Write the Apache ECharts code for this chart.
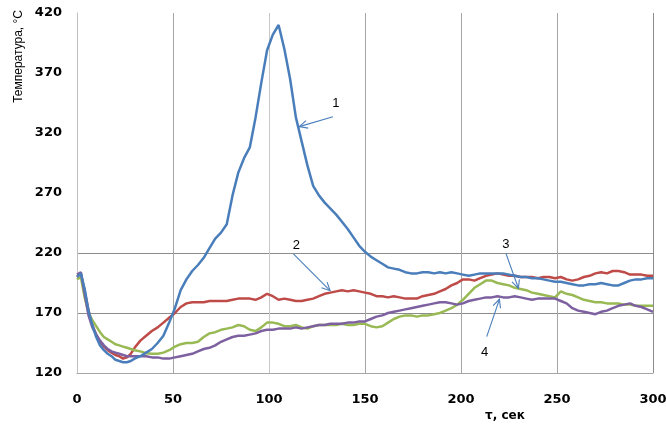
<!DOCTYPE html>
<html>
<head>
<meta charset="utf-8">
<script src="https://cdn.jsdelivr.net/npm/echarts@6/dist/echarts.min.js"></script>
<style>html,body{margin:0;padding:0;background:#fff}#c{width:666px;height:428px}</style>
</head>
<body>
<div id="c"></div>
<script>
// time, seconds
var time = [0,2,4,6,8,10,12,14,16,18,20,22,24,26,28,30,
33,36,39,42,45,48,51,54,57,60,63,66,69,72,75,78,81,84,87,90,93,96,99,102,105,108,111,114,117,120,
123,126,129,132,135,138,141,144,147,150,153,156,159,162,165,168,171,174,177,180,183,186,189,192,195,198,
201,204,207,210,213,216,219,222,225,228,231,234,237,240,243,246,249,252,255,258,261,264,267,270,273,276,
279,282,285,288,291,294,297,300];

var series1 = [200,203,190,172,160,150,143,139,136,134,131,130,129,129,130,132,
134,137,140,145,151,162,174,189,198,205,210,216,224,232,237,244,268,287,299,308,333,362,389,402,410,390,365,333,313,293,
276,268,262,257,252,246,240,233,226,221,217,214,211,208,207,206,204,203,203,204,204,203,204,203,204,203,
202,201,202,203,203,203,203,203,202,201,200,200,199,199,198,197,196,196,195,194,193,193,194,194,195,194,
193,193,195,197,198,198,199,199];

var series2 = [200,203,188,172,160,152,146,142,139,137,135,134,132,133,136,141,
147,151,155,158,162,166,170,175,178,179,179,179,180,180,180,180,181,182,182,182,181,183,186,184,181,182,181,180,180,181,
182,184,186,187,188,189,188,189,188,187,186,184,184,183,184,183,182,182,182,184,185,186,188,190,193,195,
198,198,197,199,201,202,203,202,201,201,200,200,200,199,200,200,199,200,198,197,198,200,201,203,204,203,
205,205,204,202,202,202,201,201];

var series3 = [198,200,183,170,164,159,154,150,148,146,144,143,142,141,140,139,
138,136.5,136,136,137,139,142,144,145,145,146,150,153,154,156,157,158,160,159,156,155,158,162,162,161,159,159,160,158,157,
159,160,160,160,160,161,160,160,161,161,159,158,159,162,165,167,168,168,167,168,168,169,170,172,174,177,
181,186,191,194,197,197,195,194,193,191,190,189,187,186,185,184,183,188,186,185,183,181,180,179,179,178,
178,178,177,177,176,176,176,176];

var series4 = [202,204,186,168,158,152,147,143,140,138,137,136,135,134,134,134,
134,134,133,133,132,132,133,134,135,136,138,140,141,143,146,148,150,151,151,152,153,155,156,156,157,157,157,158,157,158,
159,160,160,161,161,161,162,162,163,163,165,167,168,170,171,172,173,174,175,176,177,178,179,179,178,177,
178,180,181,182,183,183,184,183,183,184,183,182,181,182,182,182,182,180,178,174,172,171,170,169,171,172,
174,176,177,178,176,175,173,171];

var seriesNames = ['1','2','3','4'];
var seriesColors = ['#4a7ebb','#be4b48','#98b954','#7d60a0'];

// annotations: arrow tail [x, y], arrow tip [x, y], label text
var annotFrom = [[133.3, 333.6],[112.7, 219.2],[223.4, 219.7],[213.4, 150.3]];
var annotTo   = [[115.8, 325.3],[131.8, 188.6],[229.9, 190.6],[220.0, 181.4]];
var annotText = ['1','2','3','4'];

var xTicks = {min: 0, max: 300, interval: 50};
var yTicks = {min: 120, max: 420, interval: 50};

var labelOffsets = [[3,-13],[3,-9],[0,-9],[-2,16]];

function pairs(v){ return time.map(function(t,i){ return [t, v[i]]; }); }
var values = [series1, series2, series3, series4];

var annotData = annotFrom.map(function(f,i){ return [f[0], f[1], annotTo[i][0], annotTo[i][1], i]; });

var chart = echarts.init(document.getElementById('c'), null, {renderer:'canvas'});
var lineSeries = values.map(function(v,i){
  return {
    type:'line', name: seriesNames[i], data: pairs(v), showSymbol:false, symbol:'none',
    lineStyle:{color: seriesColors[i], width:2.5}, itemStyle:{color: seriesColors[i]},
    animation:false, z: 2 + (i===0?3:0)
  };
});

lineSeries.push({
  type:'custom', coordinateSystem:'cartesian2d', data: annotData,
  encode:{x:[0,2], y:[1,3]}, animation:false, z: 10, silent:true,
  renderItem: function(params, api){
    var p1 = api.coord([api.value(0), api.value(1)]);
    var p2 = api.coord([api.value(2), api.value(3)]);
    var idx = api.value(4);
    var ang = Math.atan2(p2[1]-p1[1], p2[0]-p1[0]);
    var L = 9, a = 0.45;
    var h1 = [p2[0]-L*Math.cos(ang-a), p2[1]-L*Math.sin(ang-a)];
    var h2 = [p2[0]-L*Math.cos(ang+a), p2[1]-L*Math.sin(ang+a)];
    var st = {stroke:'#4a7ebb', lineWidth:1.1, fill:null};
    var off = labelOffsets[idx];
    return {
      type:'group',
      children:[
        {type:'line', shape:{x1:p1[0],y1:p1[1],x2:p2[0],y2:p2[1]}, style:st},
        {type:'polyline', shape:{points:[h1,p2,h2]}, style:st},
        {type:'text', style:{text: annotText[idx], x:p1[0]+off[0], y:p1[1]+off[1], align:'center', verticalAlign:'middle',
          font:'13px "Liberation Sans", Arial, sans-serif', fill:'#000'}}
      ]
    };
  }
});

chart.setOption({
  animation:false,
  backgroundColor:'#fff',
  grid:{left:77, right:13, top:13, bottom:55, containLabel:false, outerBoundsMode:'none'},
  xAxis:{
    type:'value', min:xTicks.min, max:xTicks.max, interval:xTicks.interval,
    axisLine:{show:true, onZero:false, lineStyle:{color:'#a6a6a6', width:1}},
    axisTick:{show:false},
    axisLabel:{margin:20, color:'#000', fontWeight:'bold', fontSize:13, fontFamily:'"DejaVu Sans", Verdana, sans-serif'},
    splitLine:{show:true, lineStyle:{color:['#bfbfbf','#a6a6a6','#c8c8c8','#a6a6a6','#a6a6a6','#a6a6a6','#8c8c8c'], width:1}}
  },
  yAxis:{
    type:'value', min:yTicks.min, max:yTicks.max, interval:yTicks.interval,
    axisLine:{show:true, onZero:false, lineStyle:{color:'#bfbfbf', width:1}},
    axisTick:{show:false},
    axisLabel:{margin:15, color:'#000', fontWeight:'bold', fontSize:13, fontFamily:'"DejaVu Sans", Verdana, sans-serif'},
    splitLine:{show:true, lineStyle:{color:['rgba(0,0,0,0)','#8c8c8c','#8c8c8c','rgba(0,0,0,0)','rgba(0,0,0,0)','rgba(0,0,0,0)','rgba(0,0,0,0)'], width:1}}
  },
  graphic:[
    {type:'text', left:13, top:10, rotation:Math.PI/2, originX:0, originY:0,
      style:{text:'Температура, °C', font:'12px "Liberation Sans", Arial, sans-serif', fill:'#000'}},
    {type:'text', left:485, top:410,
      style:{text:'τ, сек', font:'bold 12px "DejaVu Sans", Verdana, sans-serif', fill:'#000'}}
  ],
  series: lineSeries
});
</script>
</body>
</html>
